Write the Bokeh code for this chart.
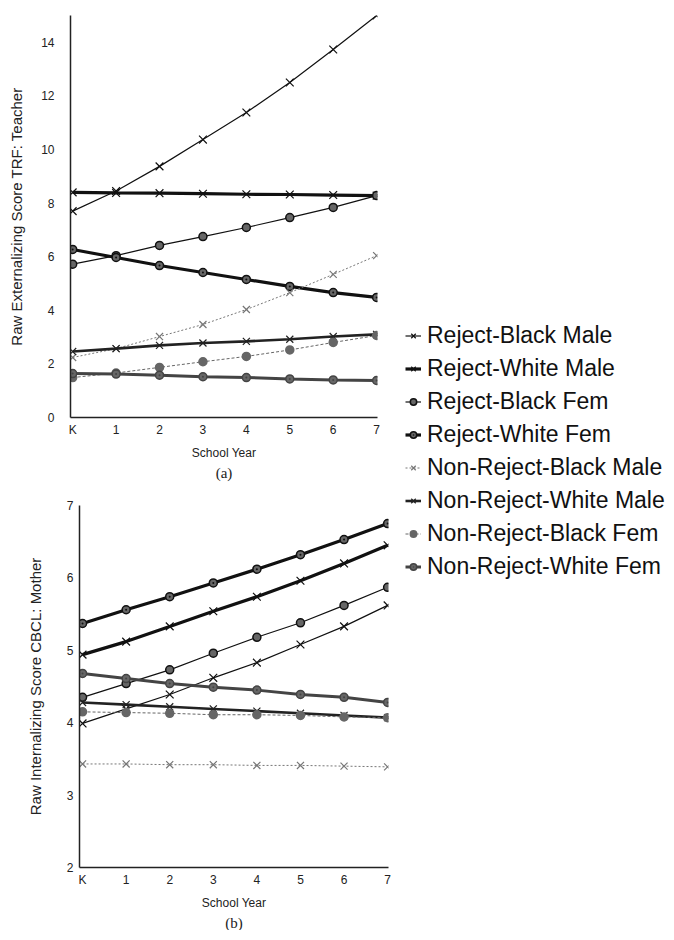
from bokeh.plotting import figure
from bokeh.models import Range1d, FixedTicker, Title, Legend, LegendItem
from bokeh.layouts import row, column
from bokeh.embed import file_html
from bokeh.resources import INLINE

years = [0, 1, 2, 3, 4, 5, 6, 7]
year_labels = ["K", "1", "2", "3", "4", "5", "6", "7"]
series_names = ["Reject-Black Male", "Reject-White Male", "Reject-Black Fem", "Reject-White Fem",
                "Non-Reject-Black Male", "Non-Reject-White Male", "Non-Reject-Black Fem",
                "Non-Reject-White Fem"]

# Panel (a): Raw Externalizing Score TRF: Teacher
a_rej_black_male = [7.7, 8.45, 9.37, 10.37, 11.38, 12.5, 13.73, 15.0]
a_rej_white_male = [8.4, 8.38, 8.37, 8.35, 8.33, 8.32, 8.3, 8.28]
a_rej_black_fem = [5.72, 6.04, 6.42, 6.75, 7.09, 7.46, 7.84, 8.28]
a_rej_white_fem = [6.27, 5.97, 5.67, 5.41, 5.15, 4.89, 4.66, 4.48]
a_non_black_male = [2.24, 2.57, 3.02, 3.47, 4.03, 4.66, 5.34, 6.04]
a_non_white_male = [2.46, 2.57, 2.69, 2.78, 2.84, 2.92, 3.02, 3.1]
a_non_black_fem = [1.49, 1.66, 1.87, 2.08, 2.28, 2.52, 2.8, 3.06]
a_non_white_fem = [1.64, 1.62, 1.58, 1.52, 1.49, 1.44, 1.40, 1.38]
a_yticks = [0, 2, 4, 6, 8, 10, 12, 14]

# Panel (b): Raw Internalizing Score CBCL: Mother
b_rej_black_male = [3.99, 4.19, 4.39, 4.62, 4.83, 5.08, 5.33, 5.62]
b_rej_white_male = [4.94, 5.12, 5.33, 5.54, 5.74, 5.96, 6.2, 6.45]
b_rej_black_fem = [4.35, 4.54, 4.73, 4.96, 5.18, 5.38, 5.62, 5.87]
b_rej_white_fem = [5.37, 5.56, 5.74, 5.93, 6.12, 6.32, 6.53, 6.75]
b_non_black_male = [3.43, 3.43, 3.42, 3.42, 3.41, 3.41, 3.40, 3.39]
b_non_white_male = [4.28, 4.25, 4.22, 4.19, 4.16, 4.13, 4.10, 4.07]
b_non_black_fem = [4.15, 4.14, 4.13, 4.11, 4.11, 4.10, 4.08, 4.07]
b_non_white_fem = [4.68, 4.61, 4.54, 4.49, 4.45, 4.39, 4.35, 4.28]
b_yticks = [2, 3, 4, 5, 6, 7]

a_series = [a_rej_black_male, a_rej_white_male, a_rej_black_fem, a_rej_white_fem,
            a_non_black_male, a_non_white_male, a_non_black_fem, a_non_white_fem]
b_series = [b_rej_black_male, b_rej_white_male, b_rej_black_fem, b_rej_white_fem,
            b_non_black_male, b_non_white_male, b_non_black_fem, b_non_white_fem]

# styles: marker, line width, colour, dash, marker size
styles = [
    ("x", 1.2, "#111111", "solid", 11),
    ("x", 3.2, "#111111", "solid", 11),
    ("circle", 1.2, "#111111", "solid", 8),
    ("circle_dot", 3.2, "#111111", "solid", 8),
    ("x", 1.0, "#777777", "2 2", 10),
    ("x", 2.6, "#222222", "solid", 10),
    ("circle_dot", 1.0, "#666666", "3 2", 8),
    ("circle_dot", 3.0, "#444444", "solid", 8),
]

FONT = "Liberation Sans"


def draw(p, ys, st):
    marker, lw, col, dash, size = st
    lr = p.line(years, ys, line_width=lw, line_color=col, line_dash=dash)
    if marker == "x":
        sr = p.scatter(years, ys, marker="x", size=size, line_color=col, line_width=1.2)
    else:
        sr = p.scatter(years, ys, marker=marker, size=size, line_color=col, line_width=1.5,
                       fill_color="#666666")
    return [lr, sr]


def style_fig(p, yticks, ylabel, tick_standoff, label_standoff):
    p.outline_line_color = None
    p.xgrid.visible = False
    p.ygrid.visible = False
    p.background_fill_color = "white"
    p.border_fill_color = "white"
    for ax in (p.xaxis[0], p.yaxis[0]):
        ax.major_tick_line_color = None
        ax.minor_tick_line_color = None
        ax.major_tick_out = 0
        ax.major_tick_in = 0
        ax.minor_tick_out = 0
        ax.axis_line_color = "#222222"
        ax.axis_line_width = 1.5
        ax.major_label_text_font = FONT
        ax.major_label_text_font_size = "12px"
        ax.major_label_text_color = "#222222"
        ax.axis_label_text_font = FONT
        ax.axis_label_text_font_style = "normal"
        ax.axis_label_text_color = "#222222"
    p.xaxis[0].ticker = FixedTicker(ticks=years)
    p.xaxis[0].major_label_overrides = {y: l for y, l in zip(years, year_labels)}
    p.xaxis[0].axis_label = "School Year"
    p.xaxis[0].axis_label_text_font_size = "12px"
    p.xaxis[0].major_label_standoff = 5
    p.xaxis[0].axis_label_standoff = 6
    p.yaxis[0].ticker = FixedTicker(ticks=yticks)
    p.yaxis[0].axis_label = ylabel
    p.yaxis[0].axis_label_text_font_size = "15px"
    p.yaxis[0].major_label_standoff = tick_standoff
    p.yaxis[0].axis_label_standoff = label_standoff


def panel_title(p, txt):
    p.add_layout(Title(text=txt, align="center", text_font="Liberation Serif",
                       text_font_size="15px", text_font_style="normal",
                       text_color="#222222", standoff=0), "below")


# ---- Panel (a)
pa = figure(width=400, height=492, output_backend="svg", toolbar_location=None,
            x_range=Range1d(-0.05, 7.02), y_range=Range1d(0, 15),
            min_border_left=70, min_border_right=23, min_border_top=15, min_border_bottom=75)
style_fig(pa, a_yticks, "Raw Externalizing Score TRF: Teacher", 16, 13)
for ys, st in zip(a_series, styles):
    draw(pa, ys, st)
panel_title(pa, "(a)")

# ---- Panel (b)
pb = figure(width=400, height=438, output_backend="svg", toolbar_location=None,
            x_range=Range1d(-0.07, 7.02), y_range=Range1d(2, 7),
            min_border_left=79, min_border_right=12, min_border_top=13, min_border_bottom=63)
style_fig(pb, b_yticks, "Raw Internalizing Score CBCL: Mother", 6, 20)
for ys, st in zip(b_series, styles):
    draw(pb, ys, st)
panel_title(pb, "(b)")

# ---- Legend panel (samples drawn outside its visible range)
pl = figure(width=270, height=930, output_backend="svg", toolbar_location=None,
            x_range=Range1d(100, 101), y_range=Range1d(100, 101),
            x_axis_type=None, y_axis_type=None,
            min_border_left=0, min_border_right=0, min_border_top=0, min_border_bottom=0)
pl.outline_line_color = None
pl.xgrid.visible = False
pl.ygrid.visible = False
items = []
for name, ys, st in zip(series_names, a_series, styles):
    rs = draw(pl, ys, st)
    items.append(LegendItem(label=name, renderers=rs))
leg = Legend(items=items, location=(5, 347), label_text_font=FONT,
             label_text_font_size="23px", label_text_color="#111111",
             label_height=33, glyph_height=33, glyph_width=16, label_standoff=6,
             spacing=0, padding=0, margin=0, border_line_color=None,
             background_fill_alpha=0)
pl.add_layout(leg, "center")

layout = row(column(row(pa), row(pb)), pl)
open("out.html", "w").write(file_html(layout, INLINE))
